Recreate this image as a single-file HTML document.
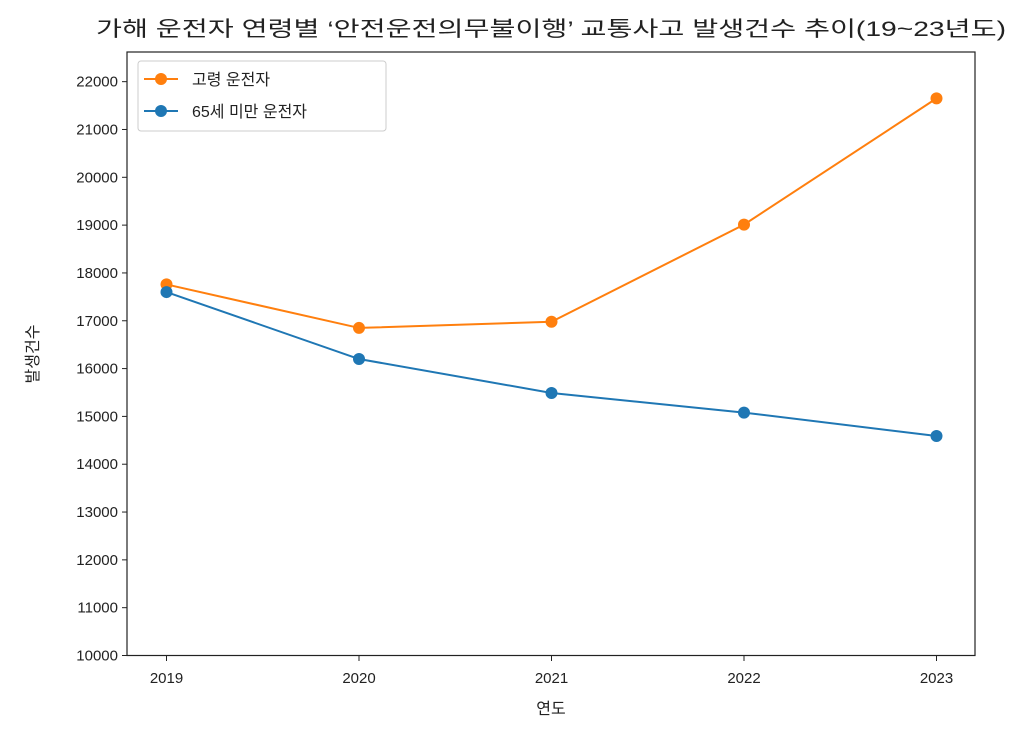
<!DOCTYPE html>
<html><head><meta charset="utf-8"><style>
body{margin:0;background:#fff;}
svg text{font-family:"Liberation Sans","Noto Sans CJK KR",sans-serif;fill:#222;}
</style></head><body>
<svg id="chart" width="1022" height="730" xmlns="http://www.w3.org/2000/svg">
<text x="96" y="36" font-size="21" textLength="910" lengthAdjust="spacingAndGlyphs">가해 운전자 연령별 ‘안전운전의무불이행’ 교통사고 발생건수 추이(19~23년도)</text>
<g id="yticks"></g><g id="xticks"></g>
<g id="series"></g>
<rect x="127" y="52" width="848" height="603.5" fill="none" stroke="#222" stroke-width="1.2"/>
<text x="551" y="714" font-size="16" text-anchor="middle">연도</text>
<text transform="translate(38,354) rotate(-90)" font-size="16" text-anchor="middle">발생건수</text>
<g>
<rect x="138" y="61" width="248" height="70" rx="3" fill="#fff" stroke="#ccc"/>
<line x1="144" y1="79" x2="178" y2="79" stroke="#ff7f0e" stroke-width="2"/><circle cx="161" cy="79" r="6" fill="#ff7f0e"/>
<text x="192" y="85" font-size="16">고령 운전자</text>
<line x1="144" y1="111" x2="178" y2="111" stroke="#1f77b4" stroke-width="2"/><circle cx="161" cy="111" r="6" fill="#1f77b4"/>
<text x="192" y="117" font-size="16">65세 미만 운전자</text>
</g>
</svg>
<script>
const years=["2019","2020","2021","2022","2023"];
const elderly=[17760,16850,16980,19010,21650];
const under65=[17600,16200,15490,15080,14590];
const yTicks=[10000,11000,12000,13000,14000,15000,16000,17000,18000,19000,20000,21000,22000];
const NS="http://www.w3.org/2000/svg";
const xs=i=>166.5+i*192.5;
const ys=v=>655.5-(v-10000)*47.82/1000;
function mk(t,a,p){const e=document.createElementNS(NS,t);for(const k in a)e.setAttribute(k,a[k]);p.appendChild(e);return e;}
const yg=document.getElementById('yticks'),xg=document.getElementById('xticks'),sg=document.getElementById('series');
yTicks.forEach(v=>{const y=ys(v);
const l=mk('line',{x1:122,x2:127,y1:y,y2:y,stroke:'#222'},yg);


const t=mk('text',{x:118,y:y+5,'font-size':15,'text-anchor':'end'},yg);t.textContent=v;

});
years.forEach((yr,i)=>{const x=xs(i);
const l=mk('line',{x1:x,x2:x,y1:655.5,y2:661,stroke:'#222'},xg);


const t=mk('text',{x:x,y:683,'font-size':15,'text-anchor':'middle'},xg);t.textContent=yr;

});
function draw(vals,color,name){
const p=mk('polyline',{points:vals.map((v,i)=>xs(i)+','+ys(v)).join(' '),fill:'none',stroke:color,'stroke-width':2},sg);


vals.forEach((v,i)=>{const c=mk('circle',{cx:xs(i),cy:ys(v),r:6,fill:color},sg);

});}
draw(elderly,'#ff7f0e','elderly');
draw(under65,'#1f77b4','under65');
</script>
</body></html>
